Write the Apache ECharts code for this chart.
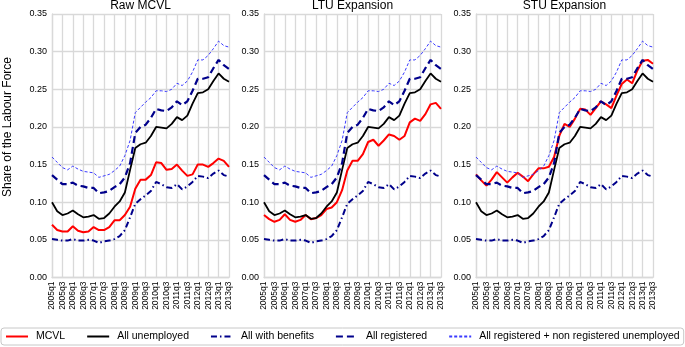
<!DOCTYPE html>
<html>
<head>
<meta charset="utf-8">
<script src="https://cdn.jsdelivr.net/npm/echarts@6/dist/echarts.min.js"></script>
<style>
html,body{margin:0;padding:0;background:#fff;}
#c{width:685px;height:347px;}
</style>
</head>
<body>
<div id="c"></div>
<script>
const quarters = ["2005q1","2005q2","2005q3","2005q4","2006q1","2006q2","2006q3","2006q4",
"2007q1","2007q2","2007q3","2007q4","2008q1","2008q2","2008q3","2008q4",
"2009q1","2009q2","2009q3","2009q4","2010q1","2010q2","2010q3","2010q4",
"2011q1","2011q2","2011q3","2011q4","2012q1","2012q2","2012q3","2012q4",
"2013q1","2013q2","2013q3"];
const panelTitles = ["Raw MCVL","LTU Expansion","STU Expansion"];
const yTicks = [0,0.05,0.10,0.15,0.20,0.25,0.30,0.35];

const mcvlRaw = [0.070,0.063,0.061,0.061,0.068,0.062,0.060,0.061,0.067,0.063,0.063,0.067,0.076,0.076,0.083,0.094,0.118,0.130,0.130,0.136,0.153,0.152,0.143,0.144,0.150,0.142,0.135,0.137,0.150,0.150,0.147,0.152,0.158,0.155,0.147];
const mcvlLTU = [0.083,0.0775,0.074,0.0765,0.084,0.0765,0.074,0.0765,0.083,0.0775,0.079,0.083,0.091,0.093,0.100,0.116,0.142,0.155,0.155,0.164,0.180,0.183,0.175,0.182,0.190,0.188,0.183,0.188,0.206,0.211,0.208,0.217,0.230,0.232,0.224];
const mcvlSTU = [0.137,0.129,0.122,0.130,0.140,0.133,0.126,0.133,0.139,0.134,0.128,0.137,0.145,0.145,0.147,0.160,0.188,0.204,0.200,0.211,0.224,0.223,0.216,0.225,0.234,0.230,0.225,0.242,0.257,0.263,0.258,0.275,0.288,0.289,0.284];
const allUnemployed = [0.100,0.088,0.083,0.085,0.089,0.084,0.080,0.081,0.083,0.078,0.079,0.085,0.094,0.101,0.113,0.143,0.172,0.177,0.179,0.188,0.200,0.199,0.198,0.204,0.213,0.209,0.215,0.231,0.245,0.246,0.250,0.261,0.271,0.264,0.260];
const allWithBenefits = [0.051,0.050,0.049,0.049,0.051,0.049,0.049,0.050,0.049,0.046,0.048,0.049,0.051,0.055,0.063,0.080,0.098,0.104,0.109,0.115,0.127,0.124,0.120,0.119,0.124,0.117,0.121,0.127,0.135,0.134,0.132,0.138,0.142,0.136,0.134];
const allRegistered = [0.136,0.130,0.124,0.124,0.126,0.122,0.121,0.119,0.119,0.112,0.113,0.115,0.120,0.124,0.133,0.152,0.192,0.200,0.203,0.212,0.224,0.222,0.221,0.226,0.234,0.229,0.234,0.248,0.264,0.264,0.266,0.278,0.289,0.282,0.277];
const allPlusNonRegistered = [0.160,0.153,0.146,0.143,0.148,0.144,0.141,0.140,0.139,0.133,0.135,0.137,0.142,0.148,0.162,0.182,0.219,0.226,0.233,0.239,0.248,0.248,0.247,0.250,0.258,0.255,0.261,0.273,0.289,0.289,0.295,0.304,0.314,0.308,0.306];

const mcvlPanels = [mcvlRaw, mcvlLTU, mcvlSTU];
const FONT = '"Liberation Sans", Arial, Helvetica, sans-serif';
const gridLefts = [52, 264, 476];
const GW = 177, GT = 14, GH = 263.5;
const gridColor = '#d9d9d9';

const grids = [], xAxes = [], yAxes = [], series = [], graphics = [];
gridLefts.forEach((l, p) => {
  grids.push({left: l, top: GT, width: GW, height: GH, containLabel: false});
  xAxes.push({
    type: 'category', gridIndex: p, data: quarters, boundaryGap: false,
    axisTick: {show: false},
    axisLine: {show: true, lineStyle: {color: gridColor, width: 1.3}},
    axisLabel: {interval: 1, rotate: 90, fontSize: 8.5, color: '#000', fontFamily: FONT, margin: 4},
    splitLine: {show: true, interval: 1, lineStyle: {color: gridColor, width: 1.3}}
  });
  yAxes.push({
    type: 'value', gridIndex: p, min: yTicks[0], max: yTicks[yTicks.length-1], interval: 0.05,
    axisTick: {show: false},
    axisLine: {show: true, lineStyle: {color: gridColor, width: 1.3}},
    axisLabel: {fontSize: 9, color: '#000', fontFamily: FONT, margin: 5, formatter: v => v.toFixed(2)},
    splitLine: {show: true, lineStyle: {color: gridColor, width: 1.3}}
  });
  const base = {type: 'line', xAxisIndex: p, yAxisIndex: p, showSymbol: false, symbol: 'none', silent: true, animation: false};
  series.push(Object.assign({}, base, {name: 'MCVL', data: mcvlPanels[p], z: 2,
    lineStyle: {color: '#ff0000', width: 2}, itemStyle: {color: '#ff0000'}}));
  series.push(Object.assign({}, base, {name: 'All unemployed', data: allUnemployed, z: 3,
    lineStyle: {color: '#000000', width: 1.8}, itemStyle: {color: '#000000'}}));
  series.push(Object.assign({}, base, {name: 'All with benefits', data: allWithBenefits, z: 4,
    lineStyle: {color: '#00008b', width: 2, type: [6, 3, 1.5, 3]}, itemStyle: {color: '#00008b'}}));
  series.push(Object.assign({}, base, {name: 'All registered', data: allRegistered, z: 5,
    lineStyle: {color: '#00008b', width: 2.2, type: [7, 4]}, itemStyle: {color: '#00008b'}}));
  series.push(Object.assign({}, base, {name: 'All registered + non registered unemployed', data: allPlusNonRegistered, z: 6,
    lineStyle: {color: '#3b3bff', width: 1, type: [3, 2]}, itemStyle: {color: '#3b3bff'}}));
  graphics.push({type: 'text', x: l + GW / 2, y: 6,
    style: {text: panelTitles[p], align: 'center', verticalAlign: 'middle', fontSize: 12, fontFamily: FONT, fill: '#000'}});
});
graphics.push({type: 'text', x: 8, y: 127, rotation: Math.PI / 2,
  style: {text: 'Share of the Labour Force', align: 'center', verticalAlign: 'middle', fontSize: 12, fontFamily: FONT, fill: '#000'}});

const chart = echarts.init(document.getElementById('c'), null, {renderer: 'canvas'});
chart.setOption({
  animation: false,
  backgroundColor: '#fff',
  grid: grids, xAxis: xAxes, yAxis: yAxes, series: series,
  graphic: graphics,
  legend: {
    data: ['MCVL','All unemployed','All with benefits','All registered','All registered + non registered unemployed'],
    left: 1, top: 328, width: 680, orient: 'horizontal',
    itemWidth: 22, itemHeight: 10, itemGap: 21,
    padding: [3, 4, 3, 4],
    itemStyle: {opacity: 0},
    borderColor: '#c8c8c8', borderWidth: 1, borderRadius: 3,
    textStyle: {fontSize: 10.5, color: '#000', fontFamily: FONT, padding: [0, 0, 0, 3]}
  }
});
</script>
</body>
</html>
